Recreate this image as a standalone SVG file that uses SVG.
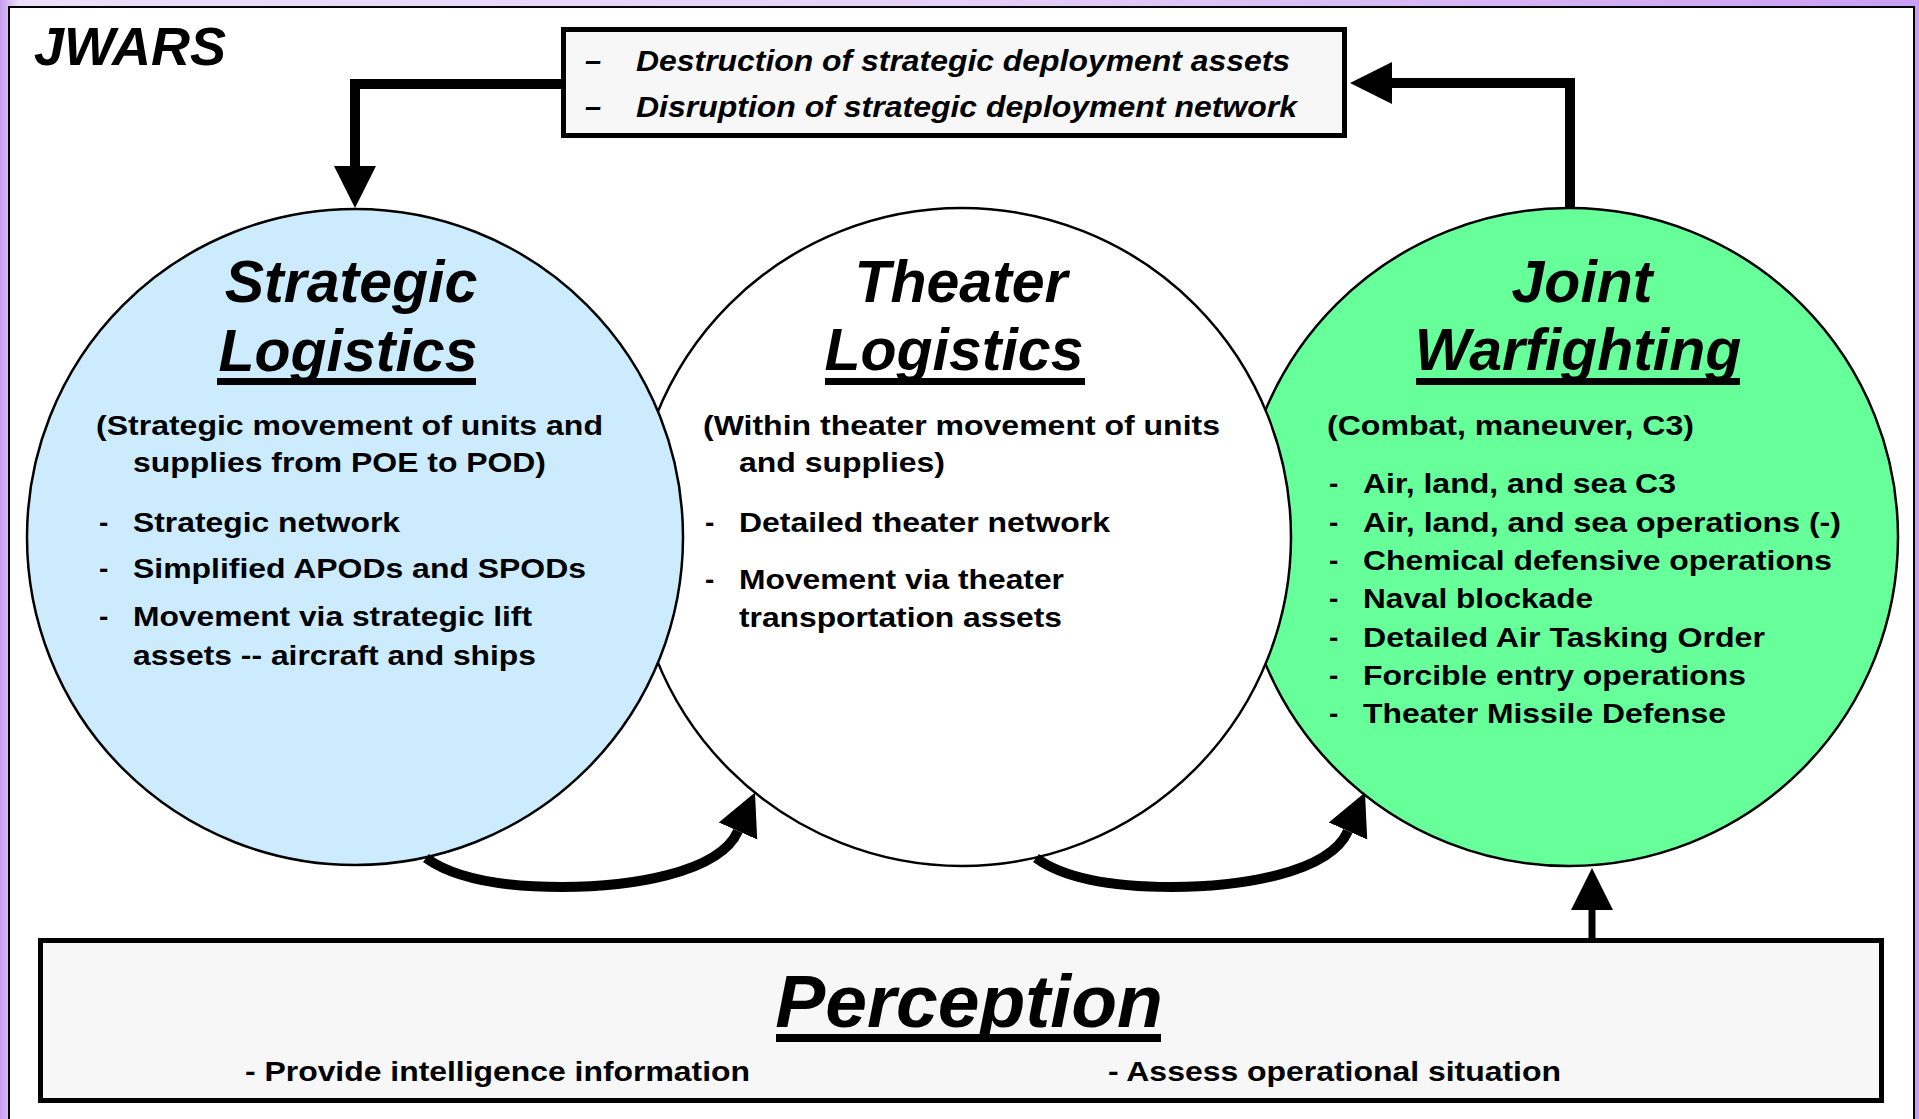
<svg xmlns="http://www.w3.org/2000/svg" width="1919" height="1119" viewBox="0 0 1919 1119">
<defs>
<linearGradient id="bg" x1="0" y1="0" x2="1" y2="0">
<stop offset="0" stop-color="#c99ef0"/>
<stop offset="0.01" stop-color="#ecdff9"/>
<stop offset="0.5" stop-color="#e4d0f8"/>
<stop offset="1" stop-color="#c99ef3"/>
</linearGradient>
<marker id="head" markerUnits="userSpaceOnUse" markerWidth="44" markerHeight="44" viewBox="0 -22 44 44" refX="0" refY="0" orient="auto">
<path d="M0,-21 L42,0 L0,21 Z" fill="#000"/>
</marker>
</defs>
<style>
text { font-family: "Liberation Sans", Arial, sans-serif; font-weight: bold; fill: #000; }
.title { font-size: 59px; font-style: italic; text-anchor: middle; }
.body { font-size: 28px; }
.box { font-size: 29px; font-style: italic; }
.circ { stroke: #000; stroke-width: 2.5; }
.panel { fill: #f7f7f7; stroke: #000; stroke-width: 5; }
.ul { fill: #000; }
.conn { fill: none; stroke: #000; stroke-width: 10; marker-end: url(#head); }
</style>
<rect x="0" y="0" width="1919" height="1119" fill="url(#bg)"/>
<rect x="9" y="7" width="1905" height="1130" fill="#fff" stroke="#000" stroke-width="2"/>
<text x="34" y="65" style="font-size:54px;font-style:italic">JWARS</text>

<g id="joint-warfighting">
<circle class="circ" cx="1569" cy="537" r="329" fill="#66ff99"/>
</g>
<g id="theater-logistics">
<circle class="circ" cx="962" cy="537" r="329" fill="#ffffff"/>
</g>
<g id="strategic-logistics">
<circle class="circ" cx="355" cy="537" r="328" fill="#ccecfe"/>
<text class="title" x="351" y="302">Strategic</text>
<text class="title" x="348" y="371">Logistics</text>
<rect class="ul" x="217" y="378" width="259" height="7"/>
<text class="body" x="96" y="435" textLength="507" lengthAdjust="spacingAndGlyphs">(Strategic movement of units and</text>
<text class="body" x="133" y="472" textLength="413" lengthAdjust="spacingAndGlyphs">supplies from POE to POD)</text>
<text class="body" x="99" y="532">-</text>
<text class="body" x="133" y="532" textLength="267" lengthAdjust="spacingAndGlyphs">Strategic network</text>
<text class="body" x="99" y="578">-</text>
<text class="body" x="133" y="578" textLength="453" lengthAdjust="spacingAndGlyphs">Simplified APODs and SPODs</text>
<text class="body" x="99" y="626">-</text>
<text class="body" x="133" y="626" textLength="399" lengthAdjust="spacingAndGlyphs">Movement via strategic lift</text>
<text class="body" x="133" y="665" textLength="403" lengthAdjust="spacingAndGlyphs">assets -- aircraft and ships</text>
</g>
<g id="theater-logistics-text">
<text class="title" x="961" y="302">Theater</text>
<text class="title" x="954" y="370">Logistics</text>
<rect class="ul" x="825" y="378" width="260" height="7"/>
<text class="body" x="703" y="435" textLength="517" lengthAdjust="spacingAndGlyphs">(Within theater movement of units</text>
<text class="body" x="739" y="472" textLength="206" lengthAdjust="spacingAndGlyphs">and supplies)</text>
<text class="body" x="705" y="532">-</text>
<text class="body" x="739" y="532" textLength="371" lengthAdjust="spacingAndGlyphs">Detailed theater network</text>
<text class="body" x="705" y="589">-</text>
<text class="body" x="739" y="589" textLength="325" lengthAdjust="spacingAndGlyphs">Movement via theater</text>
<text class="body" x="739" y="627" textLength="323" lengthAdjust="spacingAndGlyphs">transportation assets</text>
</g>
<g id="joint-warfighting-text">
<text class="title" x="1582" y="302">Joint</text>
<text class="title" x="1578" y="370">Warfighting</text>
<rect class="ul" x="1416" y="378" width="324" height="7"/>
<text class="body" x="1327" y="435" textLength="367" lengthAdjust="spacingAndGlyphs">(Combat, maneuver, C3)</text>
<text class="body" x="1329" y="493">-</text>
<text class="body" x="1363" y="493" textLength="313" lengthAdjust="spacingAndGlyphs">Air, land, and sea C3</text>
<text class="body" x="1329" y="532">-</text>
<text class="body" x="1363" y="532" textLength="478" lengthAdjust="spacingAndGlyphs">Air, land, and sea operations (-)</text>
<text class="body" x="1329" y="570">-</text>
<text class="body" x="1363" y="570" textLength="469" lengthAdjust="spacingAndGlyphs">Chemical defensive operations</text>
<text class="body" x="1329" y="608">-</text>
<text class="body" x="1363" y="608" textLength="230" lengthAdjust="spacingAndGlyphs">Naval blockade</text>
<text class="body" x="1329" y="647">-</text>
<text class="body" x="1363" y="647" textLength="402" lengthAdjust="spacingAndGlyphs">Detailed Air Tasking Order</text>
<text class="body" x="1329" y="685">-</text>
<text class="body" x="1363" y="685" textLength="383" lengthAdjust="spacingAndGlyphs">Forcible entry operations</text>
<text class="body" x="1329" y="723">-</text>
<text class="body" x="1363" y="723" textLength="363" lengthAdjust="spacingAndGlyphs">Theater Missile Defense</text>
</g>

<g id="threats-box">
<rect class="panel" x="563.5" y="29.5" width="781" height="106"/>
<text class="box" x="585" y="71">–</text>
<text class="box" x="636" y="71" textLength="654" lengthAdjust="spacingAndGlyphs">Destruction of strategic deployment assets</text>
<text class="box" x="585" y="117">–</text>
<text class="box" x="636" y="117" textLength="661" lengthAdjust="spacingAndGlyphs">Disruption of strategic deployment network</text>
</g>

<g id="perception">
<rect class="panel" x="40.5" y="940.5" width="1841" height="160"/>
<text x="969" y="1027" style="font-size:75px;font-style:italic;text-anchor:middle">Perception</text>
<rect class="ul" x="776" y="1034" width="385" height="8"/>
<text class="body" x="245" y="1081" textLength="505" lengthAdjust="spacingAndGlyphs">- Provide intelligence information</text>
<text class="body" x="1108" y="1081" textLength="453" lengthAdjust="spacingAndGlyphs">- Assess operational situation</text>
</g>

<g id="connectors">
<path class="conn" d="M 561 84 H 355 V 166"/>
<path class="conn" d="M 1570 208 V 83 H 1392"/>
<path class="conn" d="M 1592 939 V 910" style="stroke-width:7"/>
<path class="conn" d="M 426 858 C 455 879 505 887 562 887 C 627 887 719 874 738 831"/>
<path class="conn" d="M 1036 858 C 1065 879 1115 887 1172 887 C 1237 887 1329 874 1348 831"/>
</g>
</svg>
